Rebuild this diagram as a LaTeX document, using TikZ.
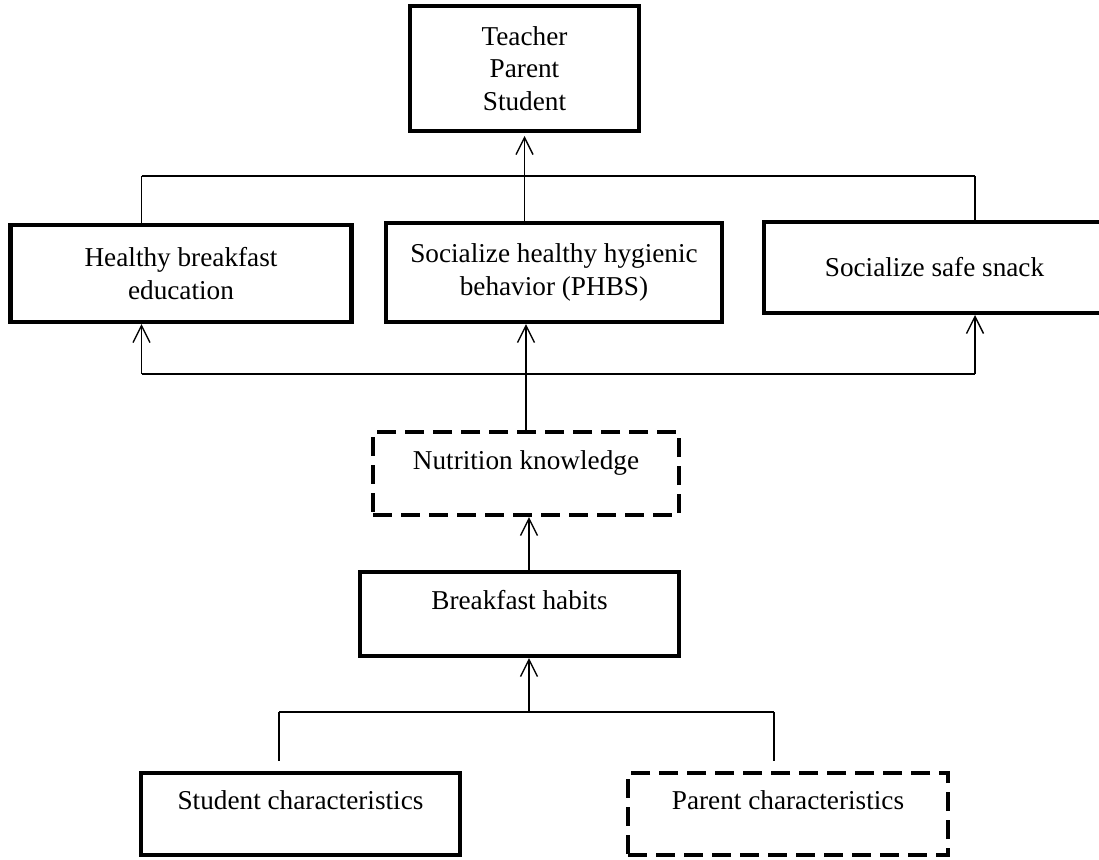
\documentclass[tikz,border=0pt]{standalone}
\usepackage{fontspec}
\setmainfont{Liberation Serif}
\usetikzlibrary{arrows.meta}
\begin{document}
\begin{tikzpicture}
\tikzset{ >={Straight Barb[length=0.34cm,width=0.34cm]},
  box/.style={draw, line width=2.3pt, align=center, font=\fontsize{15.5}{18.5}\selectfont},
  dashbox/.style={box, dash pattern=on 0.38cm off 0.18cm},
  raised/.style={text height=0.4cm, text depth=0.58cm},
  link/.style={line width=0.8pt},
}

\useasboundingbox (0,0) rectangle (21.98,-17.18);

\node [box, minimum width=4.58cm, minimum height=2.50cm] (tps) at (10.49,-1.37) {Teacher\\Parent\\Student};

\node [box, minimum width=6.82cm, minimum height=1.94cm] (hbe)   at (3.62,-5.47)  {Healthy breakfast\\education};
\node [box, minimum width=6.72cm, minimum height=1.98cm] (phbs)  at (11.08,-5.45) {Socialize healthy hygienic\\behavior (PHBS)};
\node [box, minimum width=6.82cm, minimum height=1.82cm] (snack) at (18.69,-5.35) {Socialize safe snack};

\node [dashbox, raised, minimum width=6.12cm, minimum height=1.66cm] (nk) at (10.52,-9.47) {Nutrition knowledge};
\node [box, raised, minimum width=6.38cm, minimum height=1.68cm] (bh) at (10.39,-12.28) {Breakfast habits};

\node [box, raised, minimum width=6.38cm, minimum height=1.64cm] (sc)     at (6.01,-16.28)  {Student characteristics};
\node [dashbox, raised, minimum width=6.40cm, minimum height=1.64cm] (pc) at (15.76,-16.28) {Parent characteristics};

% top branch
\coordinate (topL) at (2.83,-3.52);
\coordinate (topR) at (19.50,-3.52);
\draw [link] (topL) -- (topR);
\draw [link] (topL) -- (topL |- hbe.north);
\draw [link] (topR) -- (topR |- snack.north);
\draw [link, ->, shorten >=0.06cm] (tps |- phbs.north) -- (tps.south);

% middle branch
\coordinate (midL) at (2.83,-7.48);
\coordinate (midR) at (19.50,-7.48);
\draw [link] (midL) -- (midR);
\draw [link, ->] (midL) -- (midL |- hbe.south);
\draw [link, ->] (midR) -- (midR |- snack.south);
\draw [link, ->] (nk.north) -- (nk.north |- phbs.south);

% bottom branch
\coordinate (botL) at (5.58,-14.24);
\coordinate (botM) at (10.58,-14.24);
\coordinate (botR) at (15.48,-14.24);
\draw [link] (botL) -- (botR);
\draw [link, shorten >=0.2cm] (botL) -- (botL |- sc.north);
\draw [link, shorten >=0.2cm] (botR) -- (botR |- pc.north);
\draw [link, ->] (botM) -- (botM |- bh.south);
\draw [link, ->] (botM |- bh.north) -- (botM |- nk.south);

\end{tikzpicture}
\end{document}
